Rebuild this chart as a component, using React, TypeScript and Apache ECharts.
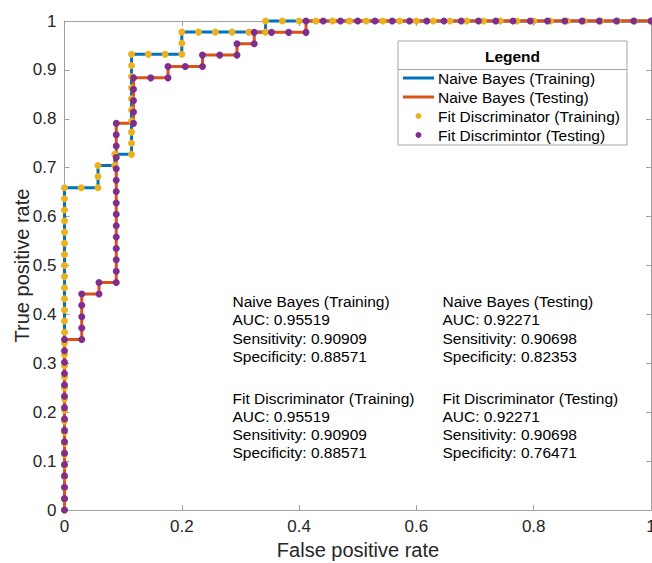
import React, { useEffect, useRef } from "react";
import * as echarts from "echarts";

// Counts of negatives / positives in each set
const trainNeg = 35;
const trainPos = 44;
const testNeg = 34;
const testPos = 43;

// ROC points as (false-positive count, true-positive count)
const trainFP = [
  0, 0, 0, 0, 0, 0, 0, 0, 0, 0, 0, 0, 0, 0, 0, 0, 0, 0, 0, 0, 0, 0, 0, 0, 0, 0, 0, 0, 0, 0,
  1, 2, 2, 2, 3, 3,
  4, 4, 4, 4, 4, 4, 4, 4, 4, 4,
  5, 6, 7, 7, 7, 8, 9, 10, 11, 12, 12,
  13, 14, 15, 16, 17, 18, 19, 20, 21, 22, 23, 24, 25, 26, 27, 28, 29, 30, 31, 32, 33, 34, 35,
];
const trainTP = [
  0, 1, 2, 3, 4, 5, 6, 7, 8, 9, 10, 11, 12, 13, 14, 15, 16, 17, 18, 19, 20, 21, 22, 23, 24, 25, 26, 27, 28, 29,
  29, 29, 30, 31, 31, 32,
  32, 33, 34, 35, 36, 37, 38, 39, 40, 41,
  41, 41, 41, 42, 43, 43, 43, 43, 43, 43, 44,
  44, 44, 44, 44, 44, 44, 44, 44, 44, 44, 44, 44, 44, 44, 44, 44, 44, 44, 44, 44, 44, 44, 44,
];
const testFP = [
  0, 0, 0, 0, 0, 0, 0, 0, 0, 0, 0, 0, 0, 0, 0, 0,
  1, 1, 1, 1, 1, 2, 2,
  3, 3, 3, 3, 3, 3, 3, 3, 3, 3, 3, 3, 3, 3, 3,
  4, 4, 4, 4, 4,
  5, 6, 6, 7, 8, 8, 9, 10, 10, 11, 11, 12, 13, 14, 14,
  15, 16, 17, 18, 19, 20, 21, 22, 23, 24, 25, 26, 27, 28, 29, 30, 31, 32, 33, 34,
];
const testTP = [
  0, 1, 2, 3, 4, 5, 6, 7, 8, 9, 10, 11, 12, 13, 14, 15,
  15, 16, 17, 18, 19, 19, 20,
  20, 21, 22, 23, 24, 25, 26, 27, 28, 29, 30, 31, 32, 33, 34,
  34, 35, 36, 37, 38,
  38, 38, 39, 39, 39, 40, 40, 40, 41, 41, 42, 42, 42, 42, 43,
  43, 43, 43, 43, 43, 43, 43, 43, 43, 43, 43, 43, 43, 43, 43, 43, 43, 43, 43, 43,
];

const xTicks = [0, 0.2, 0.4, 0.6, 0.8, 1];
const yTicks = [0, 0.1, 0.2, 0.3, 0.4, 0.5, 0.6, 0.7, 0.8, 0.9, 1];

const legendNames = [
  "Naive Bayes (Training)",
  "Naive Bayes (Testing)",
  "Fit Discriminator (Training)",
  "Fit Discrimintor (Testing)",
];

const statBlocks = [
  ["Naive Bayes (Training)", "AUC: 0.95519", "Sensitivity: 0.90909", "Specificity: 0.88571"],
  ["Naive Bayes (Testing)", "AUC: 0.92271", "Sensitivity: 0.90698", "Specificity: 0.82353"],
  ["Fit Discriminator (Training)", "AUC: 0.95519", "Sensitivity: 0.90909", "Specificity: 0.88571"],
  ["Fit Discriminator (Testing)", "AUC: 0.92271", "Sensitivity: 0.90698", "Specificity: 0.76471"],
];

const FONT = "'Liberation Sans', Arial, Helvetica, sans-serif";
const BLUE = "#0072BD";
const ORANGE = "#D95319";
const YELLOW = "#EDB120";
const PURPLE = "#7E2F8E";
const AXIS = "#a0a0a0";

export default function App() {
  const ref = useRef<HTMLDivElement>(null);

  useEffect(() => {
    if (!ref.current) return;
    const chart = echarts.init(ref.current, null, { renderer: "svg" });

    const trainData = trainFP.map((f, i) => [f / trainNeg, trainTP[i] / trainPos]);
    const testData = testFP.map((f, i) => [f / testNeg, testTP[i] / testPos]);

    const axisCommon = {
      type: "value",
      min: 0,
      max: 1,
      axisLine: { show: true, onZero: false, lineStyle: { color: AXIS, width: 1 } },
      axisTick: { show: true, inside: true, length: 5, lineStyle: { color: AXIS, width: 1 } },
      splitLine: { show: false },
    };

    const graphics: any[] = [];
    // Axis titles
    graphics.push({
      type: "text",
      x: 358,
      y: 550,
      style: {
        text: "False positive rate",
        fontSize: 20,
        fontFamily: FONT,
        fill: "#262626",
        align: "center",
        verticalAlign: "middle",
      },
    });
    graphics.push({
      type: "text",
      x: 22,
      y: 265.5,
      rotation: Math.PI / 2,
      style: {
        text: "True positive rate",
        fontSize: 20,
        fontFamily: FONT,
        fill: "#262626",
        align: "center",
        verticalAlign: "middle",
      },
    });

    // Stats text blocks
    const blockX = [232.5, 442.5, 232.5, 442.5];
    const blockY = [301.5, 301.5, 398, 398];
    statBlocks.forEach((lines, b) => {
      lines.forEach((t, i) => {
        graphics.push({
          type: "text",
          x: blockX[b],
          y: blockY[b] + i * 18.3,
          style: {
            text: t,
            fontSize: 15.5,
            fontFamily: FONT,
            fill: "#000",
            align: "left",
            verticalAlign: "middle",
          },
        });
      });
    });

    // Legend box
    const lx = 398,
      ly = 41,
      lw = 229,
      lh = 104;
    graphics.push({
      type: "rect",
      shape: { x: lx, y: ly, width: lw, height: lh },
      style: { fill: "#fff", stroke: "#a6a6a6", lineWidth: 1 },
      z: 10,
    });
    graphics.push({
      type: "line",
      shape: { x1: lx, y1: 69.5, x2: lx + lw, y2: 69.5 },
      style: { stroke: "#a6a6a6", lineWidth: 1 },
      z: 11,
    });
    graphics.push({
      type: "text",
      x: lx + lw / 2,
      y: 56,
      style: {
        text: "Legend",
        fontSize: 15.5,
        fontWeight: "bold",
        fontFamily: FONT,
        fill: "#000",
        align: "center",
        verticalAlign: "middle",
      },
      z: 11,
    });
    const entryY = [78, 97, 116, 135];
    const entryColors = [BLUE, ORANGE, YELLOW, PURPLE];
    legendNames.forEach((name, i) => {
      if (i < 2) {
        graphics.push({
          type: "line",
          shape: { x1: 403, y1: entryY[i], x2: 434, y2: entryY[i] },
          style: { stroke: entryColors[i], lineWidth: 3 },
          z: 11,
        });
      } else {
        graphics.push({
          type: "circle",
          shape: { cx: 418.5, cy: entryY[i], r: 3 },
          style: { fill: entryColors[i] },
          z: 11,
        });
      }
      graphics.push({
        type: "text",
        x: 438,
        y: entryY[i],
        style: {
          text: name,
          fontSize: 15.5,
          fontFamily: FONT,
          fill: "#000",
          align: "left",
          verticalAlign: "middle",
        },
        z: 11,
      });
    });

    const option: any = {
      animation: false,
      backgroundColor: "#fff",
      grid: {
        left: 64.5,
        right: 1,
        top: 21,
        bottom: 53,
        containLabel: false,
        outerBoundsMode: "none",
      },
      xAxis: [
        {
          ...axisCommon,
          position: "bottom",
          interval: xTicks[1] - xTicks[0],
          axisLabel: {
            show: true,
            fontSize: 17,
            fontFamily: FONT,
            color: "#262626",
            margin: 8,
            formatter: (v: number) => String(v),
          },
        },
        {
          ...axisCommon,
          position: "top",
          interval: xTicks[1] - xTicks[0],
          axisLabel: { show: false },
        },
      ],
      yAxis: [
        {
          ...axisCommon,
          position: "left",
          interval: yTicks[1] - yTicks[0],
          axisLabel: {
            show: true,
            fontSize: 17,
            fontFamily: FONT,
            color: "#262626",
            margin: 8,
            formatter: (v: number) => String(Math.round(v * 10) / 10),
          },
        },
        {
          ...axisCommon,
          position: "right",
          interval: yTicks[1] - yTicks[0],
          axisLabel: { show: false },
        },
      ],
      series: [
        {
          name: legendNames[0],
          type: "line",
          data: trainData,
          showSymbol: false,
          clip: false,
          lineStyle: { color: BLUE, width: 3 },
          z: 2,
        },
        {
          name: legendNames[1],
          type: "line",
          data: testData,
          showSymbol: false,
          clip: false,
          lineStyle: { color: ORANGE, width: 3 },
          z: 3,
        },
        {
          name: legendNames[2],
          type: "scatter",
          data: trainData,
          symbolSize: 7,
          clip: false,
          itemStyle: { color: YELLOW, opacity: 1 },
          z: 4,
        },
        {
          name: legendNames[3],
          type: "scatter",
          data: testData,
          symbolSize: 7,
          clip: false,
          itemStyle: { color: PURPLE, opacity: 1 },
          z: 5,
        },
      ],
      graphic: graphics,
    };

    chart.setOption(option);
    return () => chart.dispose();
  }, []);

  return (
    <div
      ref={ref}
      style={{ position: "fixed", left: 0, top: 0, width: 652, height: 563, background: "#fff" }}
    />
  );
}
